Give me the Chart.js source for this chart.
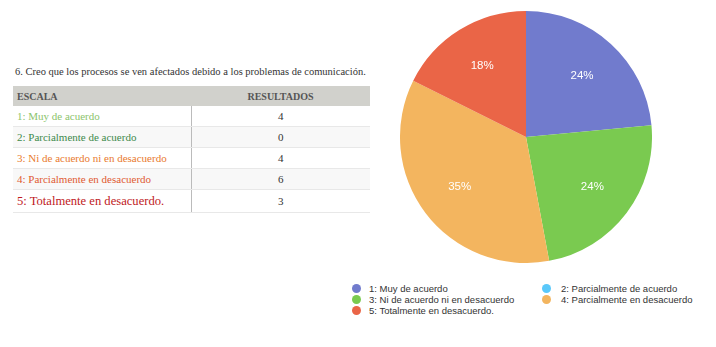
<!DOCTYPE html>
<html>
<head>
<meta charset="utf-8">
<script src="https://cdn.jsdelivr.net/npm/chart.js@4"></script>
<style>
  body { margin: 0; width: 716px; height: 347px; background: #fff; position: relative; overflow: hidden; }
  #title { position: absolute; left: 15px; top: 66px; font: 10.5px "Liberation Serif", serif; color: #333; white-space: nowrap; }
  table { position: absolute; left: 13px; top: 86px; width: 357px; border-collapse: collapse; font-family: "Liberation Serif", serif; }
  th { background: #d1d1cc; color: #555; font-size: 10px; height: 20px; padding: 0 4px; font-weight: bold; }
  th.l { text-align: left; }
  td { height: 20px; padding: 0 4px; font-size: 11px; border-bottom: 1px solid #e8e8e8; }
  td.v { text-align: center; color: #333; border-left: 1px solid #bbb; }
  tr.alt td { background: #f8f8f8; }
  #pie { position: absolute; left: 400px; top: 11px; }
  #legend { position: absolute; left: 352px; top: 283px; font: 9.5px "Liberation Sans", sans-serif; color: #333; }
  .li { position: absolute; white-space: nowrap; height: 11px; line-height: 11px; }
  .dot { display: inline-block; width: 9px; height: 9px; border-radius: 50%; vertical-align: -1px; margin-right: 8px; }
</style>
</head>
<body>
<div id="title">6. Creo que los procesos se ven afectados debido a los problemas de comunicación.</div>
<table id="tbl">
  <tr><th class="l" style="width:170px">ESCALA</th><th>RESULTADOS</th></tr>
</table>
<canvas id="pie" width="252" height="252"></canvas>
<div id="legend"></div>
<script>
var labels = ["1: Muy de acuerdo", "2: Parcialmente de acuerdo", "3: Ni de acuerdo ni en desacuerdo", "4: Parcialmente en desacuerdo", "5: Totalmente en desacuerdo."];
var results = [4, 0, 4, 6, 3];
var sliceColors = ["#717bcd", "#5ac8fa", "#7aca50", "#f3b55f", "#ea6547"];
var textColors = ["#8cc46c", "#3e8a4c", "#e97a2e", "#e05a32", "#c01a1d"];

// table rows
var tbl = document.getElementById("tbl");
for (let i = 0; i < labels.length; i++) {
  var tr = document.createElement("tr");
  if (i % 2 == 1) tr.className = "alt";
  var big = i == 4;
  tr.innerHTML = '<td style="color:' + textColors[i] + (big ? ';font-size:12.6px;height:22px' : '') + '">' + labels[i] + '</td><td class="v">' + results[i] + '</td>';
  tbl.appendChild(tr);
}

// legend in two columns
var legend = document.getElementById("legend");
for (let i = 0; i < labels.length; i++) {
  var d = document.createElement("div");
  d.className = "li";
  d.style.left = (i % 2 == 0 ? 0 : 190) + "px";
  d.style.top = (Math.floor(i / 2) * 11) + "px";
  d.innerHTML = '<span class="dot" style="background:' + sliceColors[i] + (i % 2 ? ';margin-right:10px' : '') + '"></span>' + labels[i];
  legend.appendChild(d);
}

const pctLabels = {
  id: "pctLabels",
  afterDatasetsDraw(chart) {
    var ctx = chart.ctx;
    var meta = chart.getDatasetMeta(0);
    var total = results.reduce((a, b) => a + b, 0);
    ctx.save();
    ctx.fillStyle = "#fff";
    ctx.font = "11.5px 'Liberation Sans', sans-serif";
    ctx.textAlign = "center";
    ctx.textBaseline = "middle";
    meta.data.forEach(function (arc, i) {
      if (!results[i]) return;
      var a = (arc.startAngle + arc.endAngle) / 2;
      var r = arc.outerRadius * 0.66;
      ctx.fillText(Math.round(results[i] / total * 100) + "%", arc.x + Math.cos(a) * r, arc.y + Math.sin(a) * r);
    });
    ctx.restore();
  }
};

var ctx = document.getElementById("pie");
var myChart = new Chart(ctx, {
  type: "pie",
  data: {
    labels: labels,
    datasets: [
      {
        data: results,
        backgroundColor: sliceColors,
        borderWidth: 0,
      },
    ],
  },
  options: {
    responsive: false,
    animation: false,
    plugins: { legend: { display: false }, tooltip: { enabled: false } },
  },
  plugins: [pctLabels],
});
</script>
</body>
</html>
